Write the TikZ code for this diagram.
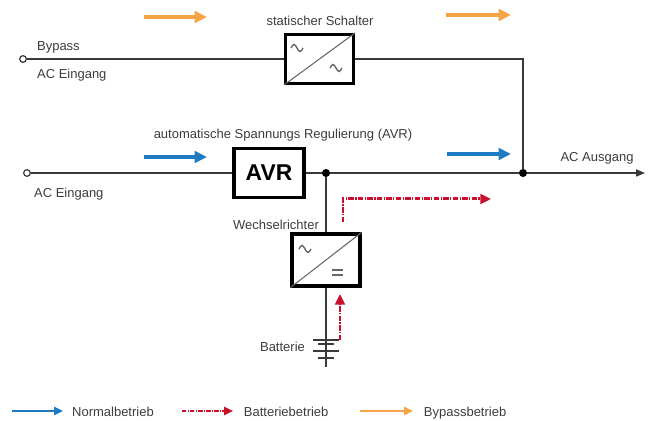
\documentclass[tikz,border=0pt]{standalone}
\usepackage{fontspec}
\setmainfont{Liberation Sans}
\usetikzlibrary{positioning,arrows.meta}

\definecolor{flowblue}{HTML}{1F7BC1}
\definecolor{flowred}{HTML}{C8102E}
\definecolor{floworange}{HTML}{F5A343}
\definecolor{wiregray}{HTML}{3A3A3A}
\definecolor{textgray}{HTML}{3C3C3C}

% small ac wave inside the converter boxes
\newcommand{\acwave}[1]{\draw[symb, line width=0.8pt] (#1) ++(-3.4pt,0pt) sin ++(1.7pt,2pt) cos ++(1.7pt,-2pt) sin ++(1.7pt,-2pt) cos ++(1.7pt,2pt);}

\begin{document}
\begin{tikzpicture}[
    x=0.02cm, y=-0.02cm,
    font=\fontsize{7.4}{9}\selectfont,
    wire/.style={draw=wiregray, line width=0.8pt},
    unit/.style={rectangle, draw=black, line width=1.8pt, fill=white, minimum width=1.36cm, minimum height=0.98cm, inner sep=0pt},
    symb/.style={draw=black!60, line width=0.6pt},
    lbl/.style={text=textgray, inner sep=1pt, text height=1.6ex, text depth=0.4ex},
    terminal/.style={circle, draw=wiregray, line width=0.7pt, fill=white, minimum size=3.8pt, inner sep=0pt},
    junction/.style={circle, fill=black, minimum size=4.6pt, inner sep=0pt},
    normal/.style={draw=flowblue, line width=2.2pt, -{Triangle[length=7pt,width=6.5pt]}},
    bypassflow/.style={draw=floworange, line width=2.2pt, -{Triangle[length=7pt,width=6.5pt]}},
    batteryflow/.style={draw=flowred, line width=1.7pt, dash pattern=on 3pt off 0.8pt on 0.8pt off 0.8pt, -{Triangle[length=6pt,width=5.5pt]}},
    legendline/.style={line width=1.3pt, -{Triangle[length=5pt,width=4.5pt]}}
]
\useasboundingbox (0,0) rectangle (653,421);

% units
\node[unit] (sw) at (319.5,59) {};
\node[unit, minimum width=1.4cm, minimum height=0.98cm] (avr) at (269,173) {\fontsize{13}{13}\selectfont\bfseries AVR};
\node[unit, minimum height=1.04cm] (inv) at (326,260) {};

\draw[symb] (sw.south west) -- (sw.north east);
\draw[symb] (inv.south west) -- (inv.north east);
\acwave{297,48}
\acwave{336,68}
\acwave{305,249}
\draw[symb, line width=0.9pt] (332,270) -- (343,270) (332,275) -- (343,275);

% terminals and junctions
\node[terminal] (byin) at (23,59) {};
\node[terminal] (acin) at (27,173) {};
\node[junction] (dot1) at (326,173) {};
\node[junction] (outdot) at (523,173) {};
\coordinate (acout) at (645,173);
\coordinate (batend) at (326,367);

% wiring
\draw[wire] (byin.east) -- (sw.west);
\draw[wire] (sw.east) -| (outdot);
\draw[wire] (acin.east) -- (avr.west);
\draw[wire] (avr.east) -- (dot1);
\draw[wire] (dot1) -- (outdot);
\draw[wire, -{Triangle[length=5pt,width=4pt]}] (outdot) -- (acout);
\draw[wire] (dot1) -- (inv.north);
\draw[wire] (inv.south) -- (batend);

% battery plates
\draw[wire, line width=1pt] (313,340) -- (339,340);
\draw[wire, line width=1pt] (318,344) -- (334,344);
\draw[wire, line width=1pt] (313,351) -- (339,351);
\draw[wire, line width=1pt] (318,358) -- (334,358);

% labels
\node[lbl] (swlbl) at (320,20) {statischer Schalter};
\node[lbl] (avrlbl) at (283,133) {automatische Spannungs Regulierung (AVR)};
\node[lbl] (invlbl) at (276,224) {Wechselrichter};
\node[lbl, anchor=east] (batlbl) at (307,346) {Batterie};
\node[lbl, anchor=west] (bylbl) at (35,45) {Bypass};
\node[lbl, anchor=west] (byinlbl) at (35,73) {AC Eingang};
\node[lbl, anchor=west] (acinlbl) at (32,192) {AC Eingang};
\node[lbl] (aclbl) at (597,156) {AC Ausgang};

% flow arrows
\draw[bypassflow] (144,17) -- (207,17);
\draw[bypassflow] (446,15) -- (511,15);
\draw[normal] (144,157) -- (207,157);
\draw[normal] (447,154) -- (511,154);
\draw[batteryflow] (340,340) -- (340,294);
\draw[batteryflow] (343,222) -- (343,199) -- (491,199);

% legend
\coordinate (lgn) at (63,411);
\coordinate (lgb) at (233,411);
\coordinate (lgy) at (413,411);
\draw[legendline, draw=flowblue] (12,411) -- (lgn);
\draw[legendline, draw=flowred, dash pattern=on 2.5pt off 0.7pt on 0.7pt off 0.7pt] (182,411) -- (lgb);
\draw[legendline, draw=floworange] (360,411) -- (lgy);
\node[lbl, right=4pt of lgn] (nlbl) {Normalbetrieb};
\node[lbl, right=5pt of lgb] (blbl) {Batteriebetrieb};
\node[lbl, right=5pt of lgy] (ylbl) {Bypassbetrieb};

\end{tikzpicture}
\end{document}
